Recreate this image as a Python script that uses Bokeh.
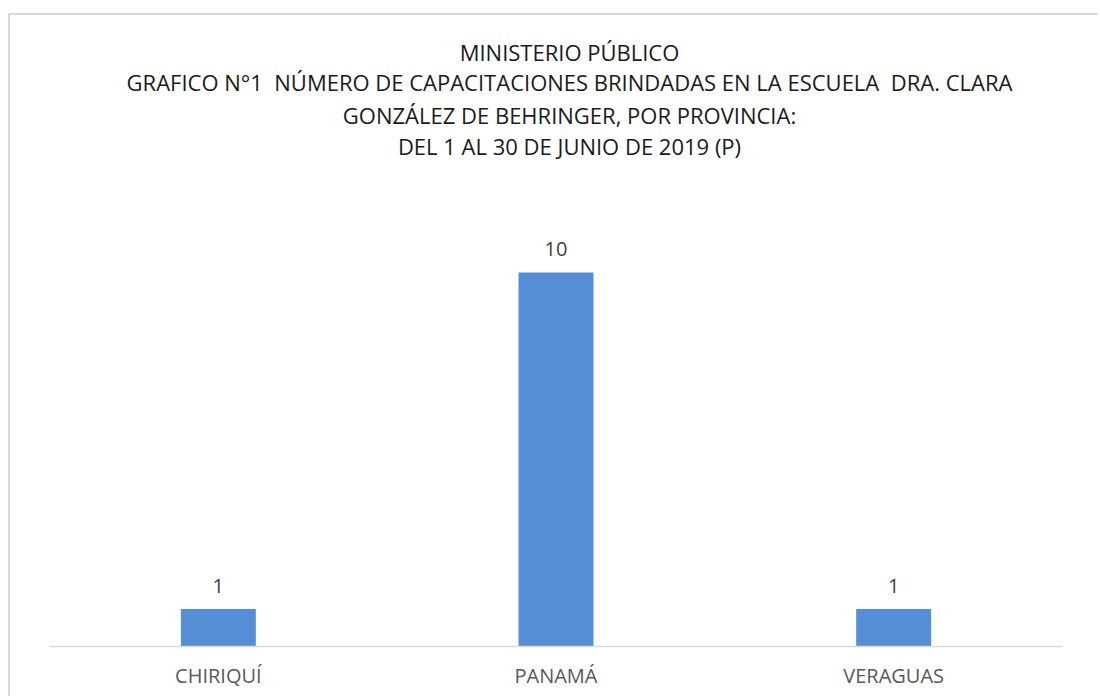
from bokeh.plotting import figure
from bokeh.models import Label, LabelSet, ColumnDataSource, Range1d
from bokeh.core.properties import value
from bokeh.embed import file_html
from bokeh.resources import INLINE

provincias = ["CHIRIQUÍ", "PANAMÁ", "VERAGUAS"]
capacitaciones = [1, 10, 1]
titulo = [
    "MINISTERIO PÚBLICO",
    "GRAFICO N°1\u00a0 NÚMERO DE CAPACITACIONES BRINDADAS EN LA ESCUELA\u00a0 DRA. CLARA",
    "GONZÁLEZ DE BEHRINGER, POR PROVINCIA:",
    "DEL 1 AL 30 DE JUNIO DE 2019 (P)",
]

FONT = "Open Sans"
W, H = 1090, 683

p = figure(x_range=provincias, y_range=Range1d(0, 16.87), width=W, height=H,
           output_backend="svg", toolbar_location=None,
           min_border_left=39, min_border_right=38, min_border_bottom=52, min_border_top=0)
p.styles = {"margin-left": "8px", "margin-top": "13px",
            "border-left": "2px solid #d9d9d9", "border-top": "2px solid #d9d9d9"}
p.outline_line_color = None
p.grid.visible = False
p.yaxis.visible = False

src = ColumnDataSource(dict(x=provincias, y=capacitaciones, t=[str(v) for v in capacitaciones]))
p.vbar(x="x", top="y", width=0.222, source=src, color="#558ED5", line_color=None)

p.add_layout(LabelSet(x="x", y="y", text="t", source=src, y_offset=16,
                      text_align="center", text_baseline="alphabetic",
                      text_font=value(FONT), text_font_size="20px", text_color="#404040"))

ax = p.xaxis[0]
ax.axis_line_color = "#d9d9d9"
ax.axis_line_width = 1.5
ax.major_tick_line_color = None
ax.minor_tick_line_color = None
ax.major_label_text_font = FONT
ax.major_label_text_font_size = "20px"
ax.major_label_text_color = "#595959"
ax.major_label_standoff = 9

frame_bottom = 646
baselines = [51, 81, 114, 145]
for line, yy in zip(titulo, baselines):
    p.add_layout(Label(x=569 - 49, y=frame_bottom - yy, x_units="screen", y_units="screen",
                       text=line, text_align="center", text_baseline="alphabetic",
                       text_font=FONT, text_font_size="22px", text_color="#1a1a1a"))

open("out.html", "w").write(file_html(p, INLINE))
